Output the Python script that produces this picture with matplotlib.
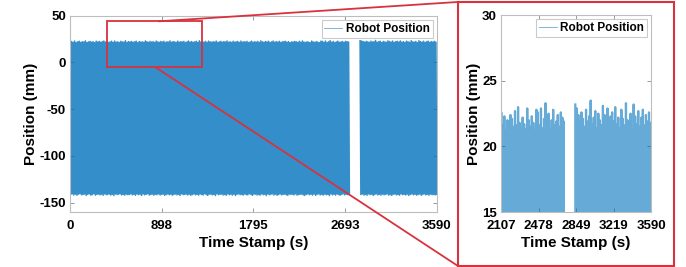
import numpy as np
import matplotlib
matplotlib.use("Agg")
import matplotlib.pyplot as plt
from matplotlib.patches import Rectangle, ConnectionPatch

plt.rcParams['font.family'] = ['Liberation Sans', 'DejaVu Sans']
plt.rcParams['font.weight'] = 'bold'
plt.rcParams['axes.unicode_minus'] = False

# recording segments (s), gap in between has no data
seg_start = [0, 2840]
seg_end = [2735, 3590]

# peak / trough of each stroke cycle (mm)
peaks_1 = [
    21.8, 22.4, 21.6, 22.9, 21.3, 22.1, 22.7, 21.5, 22.2, 21.9, 23.1, 21.4, 22.0, 22.6, 21.7, 22.3, 21.2, 22.8, 21.9, 22.5,
    21.6, 22.2, 23.0, 21.8, 22.4, 21.3, 22.0, 22.7, 21.5, 22.9, 21.7, 22.1, 21.4, 22.6, 22.0, 21.8, 23.2, 21.5, 22.3, 21.9,
    22.5, 21.6, 22.1, 22.8, 21.3, 22.4, 21.9, 22.0, 21.7, 23.0, 22.2, 21.5, 22.6, 21.8, 22.3, 21.4, 22.9, 22.0, 21.6, 22.5,
    21.9, 22.7, 21.4, 22.2, 21.8, 23.1, 21.6, 22.4, 22.0, 21.5, 22.8, 21.7, 22.3, 21.9, 22.6, 21.3, 22.1, 22.9, 21.8, 22.4,
    21.6, 22.0, 22.7, 21.5, 23.2, 21.9, 22.2, 21.7, 22.5, 21.4, 22.8, 22.1, 21.6, 22.3, 21.8, 22.9, 21.5, 22.0, 22.6, 21.7,
    22.4, 21.9, 23.0, 21.6, 22.2, 21.4, 22.7, 21.8, 22.1, 22.5, 21.5, 22.9, 21.7, 22.3, 21.9, 22.6, 21.3, 22.0, 22.8, 21.6,
    22.2, 21.8, 22.5, 21.5, 23.1, 22.0, 21.7, 22.4, 21.9, 22.7, 21.4, 22.1, 22.9, 21.6, 22.3, 21.8, 22.6, 21.5, 22.0, 22.4,
    22.6, 21.6, 22.3, 21.2, 22.0, 21.9, 22.4, 22.1, 21.5, 22.7, 21.6, 23.0, 21.8, 21.4, 22.2, 21.7, 21.3, 22.9, 22.0, 21.5,
    22.3, 21.8, 21.2, 22.8, 22.6, 21.6, 22.9, 21.4, 22.1, 23.3, 21.7, 22.5, 21.3, 22.0, 22.8, 21.6, 21.9, 22.4, 21.5, 22.6,
    22.2, 21.9,
]
troughs_1 = [
    -141.2, -140.6, -141.8, -140.9, -142.1, -141.0, -140.4, -141.6, -141.3, -140.8, -142.3, -141.1, -140.7, -141.9, -141.4, -140.5, -142.0, -141.2, -140.9, -141.7,
    -141.0, -142.2, -140.6, -141.5, -141.3, -140.8, -141.9, -141.1, -142.4, -140.7, -141.4, -141.0, -140.5, -141.8, -141.2, -142.0, -140.9, -141.5, -141.3, -140.6,
    -141.7, -141.1, -142.1, -140.8, -141.4, -141.0, -142.3, -140.7, -141.6, -141.2, -140.5, -141.9, -141.3, -140.9, -142.0, -141.1, -141.5, -140.6, -141.8, -141.2,
    -140.9, -142.2, -141.4, -140.7, -141.6, -141.0, -142.0, -141.3, -140.8, -141.7, -141.1, -142.3, -140.6, -141.5, -141.2, -140.9, -141.8, -141.0, -142.1, -141.4,
    -140.7, -141.6, -141.1, -142.0, -140.8, -141.3, -141.9, -140.5, -141.5, -142.2, -141.0, -140.9, -141.7, -141.2, -142.4, -140.6, -141.4, -141.1, -140.8, -141.8,
    -141.3, -142.1, -140.7, -141.5, -141.0, -141.9, -140.9, -142.3, -141.2, -140.6, -141.6, -141.1, -142.0, -140.8, -141.4, -141.7, -140.5, -141.2, -142.2, -141.0,
    -140.9, -141.8, -141.3, -142.0, -140.7, -141.5, -141.1, -142.4, -140.8, -141.6, -141.2, -140.6, -141.9, -141.0, -142.1, -141.4, -140.7, -141.7, -141.2, -140.9,
    -141.6, -142.2, -140.8, -141.3, -141.0, -141.8, -140.6, -142.0, -141.4, -141.1, -140.9, -141.7, -142.3, -141.2, -140.7, -141.5, -141.0, -141.9, -140.8, -142.1,
    -141.3, -140.6, -141.8, -141.1, -142.0, -140.9, -141.5, -141.2, -142.4, -140.7, -141.6, -141.0, -141.9, -140.8, -141.4, -142.1, -141.2, -140.6, -141.7, -141.0,
    -141.5, -140.9,
]
peaks_2 = [
    23.2, 22.9, 22.4, 21.8, 22.6, 22.1, 21.5, 22.8, 21.9, 22.3,
    23.5, 21.7, 22.2, 22.7, 21.4, 22.5, 22.0, 21.6, 23.1, 22.4,
    21.8, 22.9, 21.5, 22.3, 22.6, 21.9, 23.0, 21.7, 22.2, 21.4,
    22.8, 22.1, 21.6, 23.3, 22.0, 21.8, 22.5, 21.3, 23.2, 22.3,
    21.7, 22.7, 21.5, 22.2, 22.8, 21.6, 22.4, 21.9, 22.6, 21.8,
]
troughs_2 = [
    -141.4, -140.8, -141.9, -141.2, -142.1, -140.7, -141.5, -141.0, -142.3, -141.3,
    -140.6, -141.8, -141.1, -142.0, -140.9, -141.6, -141.2, -140.7, -141.9, -141.4,
    -142.2, -141.0, -140.8, -141.7, -141.3, -142.0, -140.6, -141.5, -141.1, -141.8,
    -140.9, -142.3, -141.2, -140.7, -141.6, -141.0, -141.9, -141.4, -140.8, -142.1,
    -141.3, -140.6, -141.7, -141.1, -142.0, -140.9, -141.5, -141.2, -141.8, -141.0,
]

main_xticks = [0, 898, 1795, 2693, 3590]
main_yticks = [-150, -100, -50, 0, 50]
zoom_xticks = [2107, 2478, 2849, 3219, 3590]
zoom_yticks = [15, 20, 25, 30]
zoom_box = [362, -5, 1291, 44]  # x0, y0, x1, y1 of the red box on main plot

# build the time series, NaN for the gap
ts, ys = [], []
for s, e, pk, tr in [(seg_start[0], seg_end[0], peaks_1, troughs_1),
                     (seg_start[1], seg_end[1], peaks_2, troughs_2)]:
    v = np.column_stack((pk, tr)).ravel()
    t = np.linspace(s, e, len(v))
    ts += list(t) + [np.nan]
    ys += list(v) + [np.nan]
ts = np.array(ts)
ys = np.array(ys)

blue = '#0072BD'
gray = '#BDBDBD'
red = '#D8323E'

fig = plt.figure(figsize=(6.86, 2.67), dpi=100)
W, H = 686, 267


def px_axes(l, t, r, b):
    return fig.add_axes([l / W, 1 - b / H, (r - l) / W, (b - t) / H])


def style(ax):
    for sp in ax.spines.values():
        sp.set_color(gray)
        sp.set_linewidth(0.8)
    ax.tick_params(direction='in', length=3, width=0.6, color='#888888',
                   top=True, right=True, labelsize=9.5)
    ax.tick_params(axis='x', pad=6)
    ax.tick_params(axis='y', pad=3)
    for lb in ax.get_xticklabels() + ax.get_yticklabels():
        lb.set_fontweight('bold')


def add_legend(ax):
    leg = ax.legend(loc='upper right', fontsize=8.5, frameon=True, fancybox=False,
                    handlelength=1.5, handletextpad=0.3, borderpad=0.25,
                    borderaxespad=0.35)
    leg.get_frame().set_edgecolor(gray)
    leg.get_frame().set_linewidth(0.8)
    for ln in leg.get_lines():
        ln.set_linewidth(0.6)
        ln.set_alpha(0.6)
    for tx in leg.get_texts():
        tx.set_fontweight('bold')


ax = px_axes(70, 15.7, 436.7, 212)
ax.plot(ts, ys, color=blue, lw=1.1, alpha=0.8, label='Robot Position')
ax.set_xlim(0, 3590)
ax.set_ylim(-160, 50)
ax.set_xticks(main_xticks)
ax.set_yticks(main_yticks)
ax.set_xlabel('Time Stamp (s)', fontsize=11, fontweight='bold', labelpad=3)
ax.set_ylabel('Position (mm)', fontsize=11, fontweight='bold', labelpad=1)
style(ax)
add_legend(ax)

ax2 = px_axes(501, 15.3, 651.3, 212)
ax2.plot(ts, ys, color=blue, lw=1.6, alpha=0.6, label='Robot Position')
ax2.set_xlim(2107, 3590)
ax2.set_ylim(15, 30)
ax2.set_xticks(zoom_xticks)
ax2.set_yticks(zoom_yticks)
ax2.set_xlabel('Time Stamp (s)', fontsize=11, fontweight='bold', labelpad=3)
ax2.set_ylabel('Position (mm)', fontsize=11, fontweight='bold', labelpad=1)
style(ax2)
add_legend(ax2)

# red box on main plot
x0, y0, x1, y1 = zoom_box
ax.add_patch(Rectangle((x0, y0), x1 - x0, y1 - y0, fill=False, ec=red, lw=1.3, zorder=5))

# red frame round the zoom panel
fig.add_artist(Rectangle((457.5 / W, 1 - 265.7 / H), (673.5 - 457.5) / W, (265.7 - 2) / H,
                         transform=fig.transFigure, fill=False, ec=red, lw=1.5))

# connector lines
for xa, ya, yb in [(870, y1, 2), (835, y0, 265.7)]:
    con = ConnectionPatch(xyA=(xa, ya), coordsA='data', axesA=ax,
                          xyB=(457.5, H - yb), coordsB='figure pixels',
                          color=red, lw=1.3)
    fig.add_artist(con)

fig.savefig('out.png', dpi=100)
